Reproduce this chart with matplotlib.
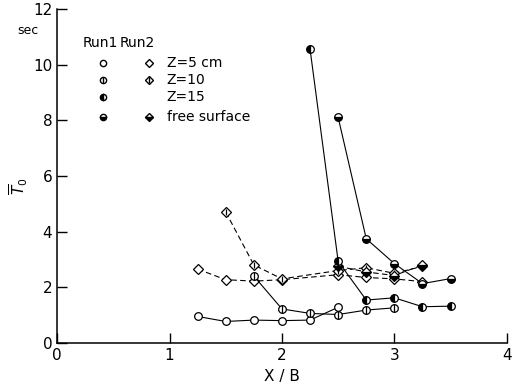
import matplotlib
matplotlib.use("Agg")
import matplotlib.pyplot as plt

# Run1 (circles, solid lines)
x_r1_z5 = [1.25, 1.5, 1.75, 2.0, 2.25, 2.5]
y_r1_z5 = [0.95, 0.77, 0.82, 0.80, 0.82, 1.28]
x_r1_z10 = [1.75, 2.0, 2.25, 2.5, 2.75, 3.0]
y_r1_z10 = [2.4, 1.22, 1.06, 1.02, 1.18, 1.26]
x_r1_z15 = [2.25, 2.5, 2.75, 3.0, 3.25, 3.5]
y_r1_z15 = [10.55, 2.93, 1.54, 1.62, 1.30, 1.32]
x_r1_fs = [2.5, 2.75, 3.0, 3.25, 3.5]
y_r1_fs = [8.1, 3.74, 2.85, 2.13, 2.31]

# Run2 (diamonds, dashed lines)
x_r2_z5 = [1.25, 1.5, 1.75, 2.0, 2.5, 2.75, 3.0, 3.25]
y_r2_z5 = [2.65, 2.27, 2.22, 2.27, 2.45, 2.35, 2.30, 2.20]
x_r2_z10 = [1.5, 1.75, 2.0, 2.5, 2.75, 3.0, 3.25]
y_r2_z10 = [4.7, 2.8, 2.3, 2.6, 2.7, 2.5, 2.75]
x_r2_fs = [2.5, 2.75, 3.0, 3.25]
y_r2_fs = [2.75, 2.55, 2.42, 2.8]

x_ticks = [0, 1, 2, 3, 4]
y_ticks = [0, 2, 4, 6, 8, 10, 12]

plt.rcParams['font.family'] = 'DejaVu Sans'

fig = plt.figure(figsize=(5.15, 3.84), dpi=100)
ax = fig.add_axes([0.111, 0.107, 0.873, 0.870])

ms = 5.5
dms = 4.8
dash = (0, (5, 3))
lk = dict(color='black', lw=0.8, mec='black', mew=0.9)

# Run2 dashed
ax.plot(x_r2_z5, y_r2_z5, ls=dash, marker='D', mfc='white', ms=dms, **lk)
ax.plot(x_r2_z10, y_r2_z10, ls=dash, marker='D', mfc='white', ms=dms, **lk)
ax.plot(x_r2_z10, y_r2_z10, ls='none', marker='|', mec='black', ms=dms, mew=0.9)
ax.plot(x_r2_fs, y_r2_fs, ls=dash, marker='D', fillstyle='bottom', mfc='black', mfcalt='white', ms=dms, **lk)

# Run1 solid
ax.plot(x_r1_z5, y_r1_z5, marker='o', mfc='white', ms=ms, **lk)
ax.plot(x_r1_z10, y_r1_z10, marker='o', mfc='white', ms=ms, **lk)
ax.plot(x_r1_z10, y_r1_z10, ls='none', marker='|', mec='black', ms=ms, mew=0.9)
ax.plot(x_r1_z15, y_r1_z15, marker='o', fillstyle='left', mfc='black', mfcalt='white', ms=ms, **lk)
ax.plot(x_r1_fs, y_r1_fs, marker='o', fillstyle='bottom', mfc='black', mfcalt='white', ms=ms, **lk)

ax.set_xlim(0, 4)
ax.set_ylim(0, 12)
ax.set_xticks(x_ticks)
ax.set_yticks(y_ticks)
ax.spines['top'].set_visible(False)
ax.spines['right'].set_visible(False)
ax.spines['left'].set_linewidth(1.1)
ax.spines['bottom'].set_linewidth(1.1)
ax.tick_params(direction='in', length=7, width=1, labelsize=11)
ax.tick_params(axis='x', pad=4)
ax.set_xlabel('X / B', fontsize=11, labelpad=4)
ax.set_ylabel(r'$\overline{T}_0$', fontsize=11)
ax.yaxis.set_label_coords(-0.06, 0.47)
ax.text(-0.065, 0.935, 'sec', transform=ax.transAxes, fontsize=9, ha='center', va='center')

# legend drawn by hand
tr = ax.transAxes
ax.text(0.056, 0.898, 'Run1', transform=tr, fontsize=10, va='center')
ax.text(0.140, 0.898, 'Run2', transform=tr, fontsize=10, va='center')
rows = [0.838, 0.787, 0.737, 0.677]
labels = ['Z=5 cm', 'Z=10', 'Z=15', 'free surface']
for r, lab in zip(rows, labels):
    ax.text(0.244, r, lab, transform=tr, fontsize=10, va='center')
lms = 4.5
ax.plot([0.102], [rows[0]], marker='o', mfc='white', mec='black', ms=lms, transform=tr, clip_on=False)
ax.plot([0.102], [rows[1]], marker='o', mfc='white', mec='black', ms=lms, transform=tr, clip_on=False)
ax.plot([0.102], [rows[1]], marker='|', mec='black', ms=lms, transform=tr, clip_on=False)
ax.plot([0.102], [rows[2]], marker='o', fillstyle='left', mfc='black', mfcalt='white', mec='black', ms=lms,
        transform=tr, clip_on=False)
ax.plot([0.102], [rows[3]], marker='o', fillstyle='bottom', mfc='black', mfcalt='white', mec='black', ms=lms,
        transform=tr, clip_on=False)
ax.plot([0.204], [rows[0]], marker='D', mfc='white', mec='black', ms=4, transform=tr, clip_on=False)
ax.plot([0.204], [rows[1]], marker='D', mfc='white', mec='black', ms=4, transform=tr, clip_on=False)
ax.plot([0.204], [rows[1]], marker='|', mec='black', ms=4, transform=tr, clip_on=False)
ax.plot([0.204], [rows[3]], marker='D', fillstyle='bottom', mfc='black', mfcalt='white', mec='black', ms=4,
        transform=tr, clip_on=False)

fig.savefig('out.png', dpi=100)
